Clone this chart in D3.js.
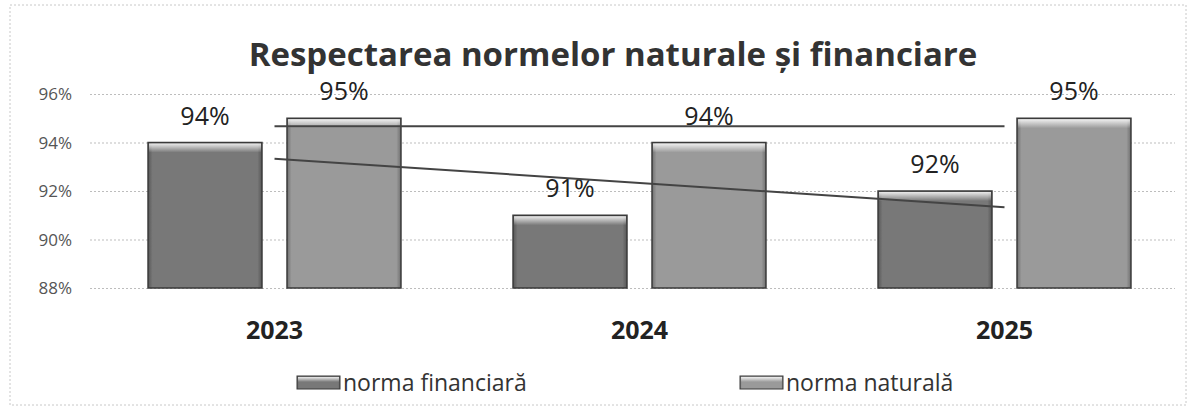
<!DOCTYPE html>
<html lang="ro">
<head>
  <meta charset="UTF-8" />
  <title>Respectarea normelor naturale și financiare</title>
  <script src="https://d3js.org/d3.v7.min.js"></script>
  <style>
    body { margin: 0; background: #fff; font-family: "Open Sans", sans-serif; }
    .grid line { stroke: #bdbdbd; stroke-dasharray: 2,2; }
    .tick-label { font-size: 17px; fill: #555; }
  </style>
</head>
<body>
<svg width="1192" height="411"></svg>
<script>
  // Date
  const ani = ["2023", "2024", "2025"];
  const serii = ["norma financiară", "norma naturală"];
  const financiara = [0.94, 0.91, 0.92];
  const naturala = [0.95, 0.94, 0.95];
  const yTicks = [0.88, 0.90, 0.92, 0.94, 0.96];

  const valori = [financiara, naturala];
  const culori = ["#787878", "#9a9a9a"];

  const svg = d3.select("svg");

  // chenar punctat
  svg.append("rect")
    .attr("x", 10).attr("y", 5).attr("width", 1176).attr("height", 400)
    .attr("fill", "none").attr("stroke", "#c8c8c8").attr("stroke-dasharray", "2,2");

  const y = d3.scaleLinear().domain([0.88, 0.96]).range([288, 94]);
  const x0 = d3.scaleBand().domain(ani).range([92, 1187])
    .paddingInner(0.307).paddingOuter(0.1535);
  const x1 = d3.scaleBand().domain(serii).range([0, x0.bandwidth()]).paddingInner(0.18);

  // gradienti pentru efectul de relief
  const defs = svg.append("defs");
  culori.forEach((c, i) => {
    const g = defs.append("linearGradient").attr("id", "side" + i)
      .attr("x1", 0).attr("x2", 1).attr("y1", 0).attr("y2", 0);
    g.append("stop").attr("offset", "0%").attr("stop-color", d3.color(c).darker(0.9));
    g.append("stop").attr("offset", "4%").attr("stop-color", c);
    g.append("stop").attr("offset", "96%").attr("stop-color", c);
    g.append("stop").attr("offset", "100%").attr("stop-color", d3.color(c).darker(0.9));
  });
  const topGrad = defs.append("linearGradient").attr("id", "topg")
    .attr("x1", 0).attr("x2", 0).attr("y1", 0).attr("y2", 1);
  topGrad.append("stop").attr("offset", "0%").attr("stop-color", "#fff").attr("stop-opacity", 0.85);
  topGrad.append("stop").attr("offset", "100%").attr("stop-color", "#fff").attr("stop-opacity", 0);

  // grila
  svg.append("g").attr("class", "grid")
    .attr("transform", "translate(90,0)")
    .call(d3.axisLeft(y).tickValues(yTicks).tickSize(-1085).tickFormat(""))
    .call(g => g.select(".domain").remove());

  svg.selectAll(".tick-label")
    .data(yTicks).enter().append("text")
    .attr("class", "tick-label")
    .attr("x", 72).attr("y", d => y(d) + 6)
    .attr("text-anchor", "end")
    .text(d => d3.format(".0%")(d));

  // bare
  serii.forEach((s, si) => {
    const grp = svg.append("g");
    const bars = grp.selectAll("g").data(valori[si]).enter().append("g")
      .attr("transform", (d, i) => `translate(${x0(ani[i]) + x1(s)},0)`);
    bars.append("rect")
      .attr("y", d => y(d)).attr("width", x1.bandwidth())
      .attr("height", d => y(0.88) - y(d))
      .attr("fill", `url(#side${si})`)
      .attr("stroke", "#3a3a3a").attr("stroke-width", 1.5);
    bars.append("rect")
      .attr("x", 1).attr("y", d => y(d) + 1).attr("width", x1.bandwidth() - 2)
      .attr("height", 9).attr("fill", "url(#topg)");
    bars.append("text")
      .attr("x", x1.bandwidth() / 2).attr("y", d => y(d) - 18)
      .attr("text-anchor", "middle")
      .style("font-size", "25px").attr("fill", "#222")
      .text(d => d3.format(".0%")(d));
  });

  // linii de tendinta (regresie liniara)
  const cx = ani.map(a => x0(a) + x0.bandwidth() / 2);
  valori.forEach(v => {
    const n = v.length, mx = (n - 1) / 2, my = d3.mean(v);
    const b = d3.sum(v, (d, i) => (i - mx) * (d - my)) / d3.sum(v, (d, i) => (i - mx) ** 2);
    const a = my - b * mx;
    svg.append("line")
      .attr("x1", cx[0]).attr("x2", cx[n - 1])
      .attr("y1", y(a)).attr("y2", y(a + b * (n - 1)))
      .attr("stroke", "#444").attr("stroke-width", 2);
  });

  // etichete axa X
  svg.selectAll(".an").data(ani).enter().append("text")
    .attr("x", d => x0(d) + x0.bandwidth() / 2).attr("y", 339)
    .attr("text-anchor", "middle")
    .style("font-size", "25px").style("font-weight", "bold").attr("fill", "#222")
    .text(d => d);

  // titlu
  svg.append("text")
    .attr("x", 613).attr("y", 66).attr("text-anchor", "middle")
    .style("font-size", "33px").style("font-weight", "bold").attr("fill", "#333")
    .text("Respectarea normelor naturale și financiare");

  // legenda
  const legX = [297, 740];
  serii.forEach((s, i) => {
    svg.append("rect")
      .attr("x", legX[i]).attr("y", 376).attr("width", 43).attr("height", 13)
      .attr("fill", `url(#side${i})`).attr("stroke", "#3a3a3a");
    svg.append("rect")
      .attr("x", legX[i] + 1).attr("y", 377).attr("width", 41).attr("height", 5)
      .attr("fill", "url(#topg)");
    svg.append("text")
      .attr("x", legX[i] + 46).attr("y", 391)
      .style("font-size", "23px").attr("fill", "#333")
      .text(s);
  });
</script>
</body>
</html>
